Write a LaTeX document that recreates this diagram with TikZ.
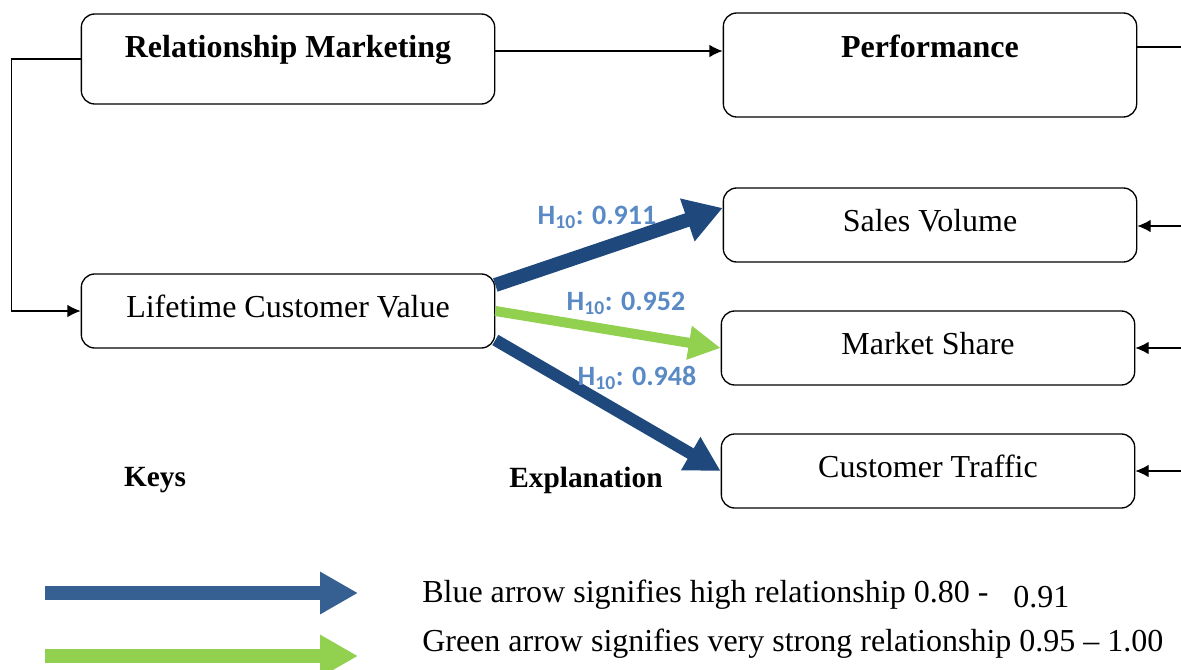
\documentclass[tikz,border=0pt]{standalone}
\usepackage{fontspec}
\setmainfont{Liberation Serif}
\newfontfamily\labelfont{Carlito}
\usepackage{xcolor}
\usepackage{tikz}
\usetikzlibrary{arrows.meta}
\tikzset{>={Latex[length=10pt,width=9.5pt]}}

\definecolor{darkblue}{HTML}{1F497D}
\definecolor{keyblue}{HTML}{376092}
\definecolor{litegreen}{HTML}{92D050}
\definecolor{hblue}{HTML}{5A8AC6}

\tikzset{
  box/.style={draw, line width=1pt, rounded corners=10pt, minimum width=310pt,
    minimum height=55.5pt, text depth=7.5pt, font=\fontsize{24}{28}\selectfont},
  tallbox/.style={box, inner ysep=0pt},
  hlabel/.style={text=hblue, font=\labelfont\bfseries\fontsize{21}{25}\selectfont},
  keytext/.style={font=\bfseries\fontsize{22}{26}\selectfont},
  legtext/.style={anchor=base west, inner sep=0pt, font=\fontsize{24}{28}\selectfont},
  thinline/.style={line width=1pt},
}

\begin{document}
\begin{tikzpicture}[x=0.75pt, y=-0.75pt]
  \useasboundingbox (0,0) rectangle (1181,670);

  % boxes
  \node[tallbox, text height=33pt, text depth=34.5pt] (rm) at (288,59) {\textbf{Relationship Marketing}};
  \node[tallbox, text height=33.75pt, text depth=44.25pt] (perf) at (930,65) {\textbf{Performance}};
  \node[box] (lcv) at (288,311) {Lifetime Customer Value};
  \node[box] (sales) at (930,225) {Sales Volume};
  \node[box] (share) at (928,348) {Market Share};
  \node[box] (traffic) at (928,471) {Customer Traffic};

  % thin connectors
  \draw[thinline, ->] (rm.east |- 0,51) -- (perf.west |- 0,51);
  \coordinate (pout) at (1181,47);
  \coordinate (sin) at (1181,226);
  \coordinate (min) at (1181,348);
  \coordinate (tin) at (1181,471);
  \draw[thinline] (perf.east |- pout) -- (pout);
  \draw[thinline, ->] (sin) -- (sales.east |- sin);
  \draw[thinline, ->] (min) -- (share.east |- min);
  \draw[thinline, ->] (tin) -- (traffic.east |- tin);
  \draw[thinline, ->] (rm.west) -- ++(-69,0) |- (lcv.west);

  % relationship arrows
  \draw[darkblue, line width=10.5pt, -{Triangle[length=28pt,width=32pt]}]
    ([yshift=19.5pt]lcv.east) -- ([yshift=12.75pt]sales.west);
  \draw[litegreen, line width=7.5pt, -{Triangle[length=24pt,width=24pt]}]
    (lcv.east) -- (share.west);
  \draw[darkblue, line width=9pt, -{Triangle[length=26pt,width=27pt]}]
    ([yshift=-21.75pt]lcv.east) -- (traffic.west);

  \node[hlabel] (h1) at (597,217) {H\textsubscript{10}: 0.911};
  \node[hlabel] (h2) at (626,303) {H\textsubscript{10}: 0.952};
  \node[hlabel] (h3) at (637,378) {H\textsubscript{10}: 0.948};

  % keys
  \node[keytext] (keys) at (155,480) {Keys};
  \node[keytext] (expl) at (586,480) {Explanation};

  \coordinate (kb1) at (45,593);
  \coordinate (kb2) at (358,593);
  \coordinate (kg1) at (45,656);
  \coordinate (kg2) at (358,656);
  \draw[keyblue, line width=10.5pt, -{Triangle[length=28.5pt,width=30pt]}] (kb1) -- (kb2);
  \draw[litegreen, line width=10.5pt, -{Triangle[length=28.5pt,width=30pt]}] (kg1) -- (kg2);

  \node[legtext] (bluetxt) at (422,602) {Blue arrow signifies high relationship 0.80 -};
  \node[legtext] (bluenum) at (1013,607) {0.91};
  \node[legtext] (greentxt) at (422,651) {Green arrow signifies very strong relationship 0.95 -- 1.00};
\end{tikzpicture}
\end{document}
